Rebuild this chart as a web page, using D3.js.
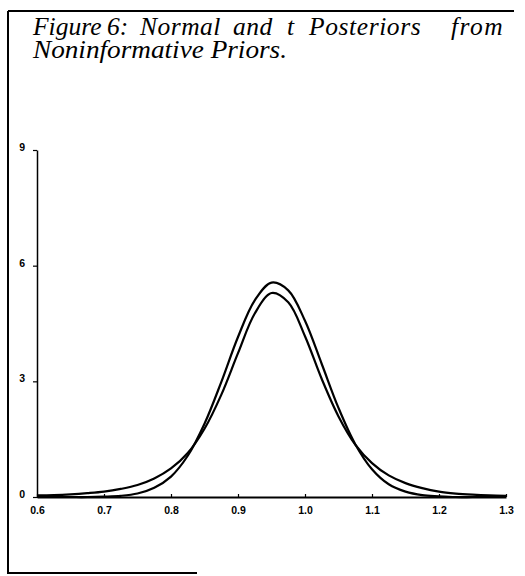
<!DOCTYPE html>
<html>
<head>
<meta charset="utf-8">
<script src="https://cdn.jsdelivr.net/npm/d3@7"></script>
<style>
  html, body { margin: 0; padding: 0; background: #fff; }
  svg { display: block; }
</style>
</head>
<body>
<svg id="chart" width="525" height="576"></svg>
<script>
// ---- data ----
const titleLine1Words = ["Figure", "6:", "Normal", "and", "t", "Posteriors", "from"];
const titleLine2 = "Noninformative Priors.";
const xTicks = [0.6, 0.7, 0.8, 0.9, 1.0, 1.1, 1.2, 1.3];
const xTickLabels = ["0.6", "0.7", "0.8", "0.9", "1.0", "1.1", "1.2", "1.3"];
const yTicks = [0, 3, 6, 9];
const yTickLabels = ["0", "3", "6", "9"];
const xs = [0.600, 0.625, 0.650, 0.675, 0.700, 0.725, 0.750, 0.775, 0.800, 0.825,
            0.850, 0.875, 0.900, 0.925, 0.950, 0.975, 1.000, 1.025, 1.050, 1.075,
            1.100, 1.125, 1.150, 1.175, 1.200, 1.225, 1.250, 1.275, 1.300];
const normalPosterior = [0.00, 0.00, 0.00, 0.00, 0.01, 0.03, 0.09, 0.24, 0.53, 1.07,
                         1.90, 2.98, 4.15, 5.10, 5.56, 5.36, 4.57, 3.45, 2.31, 1.37,
                         0.72, 0.33, 0.14, 0.05, 0.02, 0.00, 0.00, 0.00, 0.00];
const tPosterior = [0.04, 0.05, 0.07, 0.10, 0.14, 0.21, 0.31, 0.48, 0.74, 1.14,
                    1.77, 2.65, 3.73, 4.76, 5.29, 5.05, 4.17, 3.06, 2.09, 1.36,
                    0.88, 0.56, 0.36, 0.23, 0.14, 0.09, 0.06, 0.04, 0.03];

// ---- layout (left edges of the justified title words, extra letter spacing) ----
const wordX = [33, 107, 140, 233, 287, 309, 451];
const wordSpacing = [0, 0, 0.5, 0.5, 0, 0.6, 1.5];

const svg = d3.select("#chart");

// frame (left, top, partial bottom)
const frame = svg.append("g").attr("stroke", "#000").attr("fill", "none");
frame.append("line").attr("x1", 8).attr("y1", 11).attr("x2", 8).attr("y2", 574).attr("stroke-width", 2);
frame.append("line").attr("x1", 8).attr("y1", 11).attr("x2", 514).attr("y2", 11).attr("stroke-width", 2);
frame.append("line").attr("x1", 7).attr("y1", 573).attr("x2", 197).attr("y2", 573).attr("stroke-width", 2);

// title
const title = svg.append("g")
  .attr("font-family", "'Liberation Serif', 'DejaVu Serif', serif")
  .attr("font-style", "italic")
  .attr("font-size", 25.5)
  .attr("fill", "#000");
title.selectAll("text.w1").data(titleLine1Words).join("text")
  .attr("class", "w1")
  .attr("x", (d, i) => wordX[i])
  .attr("y", 35)
  .attr("letter-spacing", (d, i) => wordSpacing[i])
  .text(d => d);
title.append("text").attr("x", 33).attr("y", 58)
  .attr("textLength", 254).attr("lengthAdjust", "spacingAndGlyphs")
  .text(titleLine2);

// scales
const x = d3.scaleLinear().domain([0.6, 1.3]).range([37, 506]);
const y = d3.scaleLinear().domain([0, 9]).range([497, 150]);

// x axis
const gx = svg.append("g").attr("transform", `translate(0,${y(0)})`)
  .call(d3.axisBottom(x).tickValues(xTicks)
    .tickFormat((d, i) => xTickLabels[i])
    .tickSize(-3).tickSizeOuter(0).tickPadding(10));
gx.select(".domain").attr("stroke-width", 1.8);
gx.selectAll(".tick line").attr("stroke-width", 1.2);
gx.selectAll(".tick text")
  .attr("font-family", "'Liberation Sans', Arial, sans-serif")
  .attr("font-weight", "bold").attr("font-size", 10.5);

// y axis
const gy = svg.append("g").attr("transform", `translate(${x(0.6)},0)`)
  .call(d3.axisLeft(y).tickValues(yTicks)
    .tickFormat((d, i) => yTickLabels[i])
    .tickSize(4).tickSizeOuter(0).tickPadding(8));
gy.select(".domain").attr("stroke-width", 1.5);
gy.selectAll(".tick line").attr("stroke-width", 1.2);
gy.selectAll(".tick text")
  .attr("font-family", "'Liberation Sans', Arial, sans-serif")
  .attr("font-weight", "bold").attr("font-size", 10.5)
  .attr("dy", "0.05em");

// curves
const line = d3.line()
  .x(d => x(d[0])).y(d => y(d[1]))
  .curve(d3.curveCatmullRom.alpha(0.5));

[normalPosterior, tPosterior].forEach(series => {
  svg.append("path")
    .datum(xs.map((v, i) => [v, series[i]]))
    .attr("fill", "none")
    .attr("stroke", "#000")
    .attr("stroke-width", 2.2)
    .attr("d", line);
});
</script>
</body>
</html>
